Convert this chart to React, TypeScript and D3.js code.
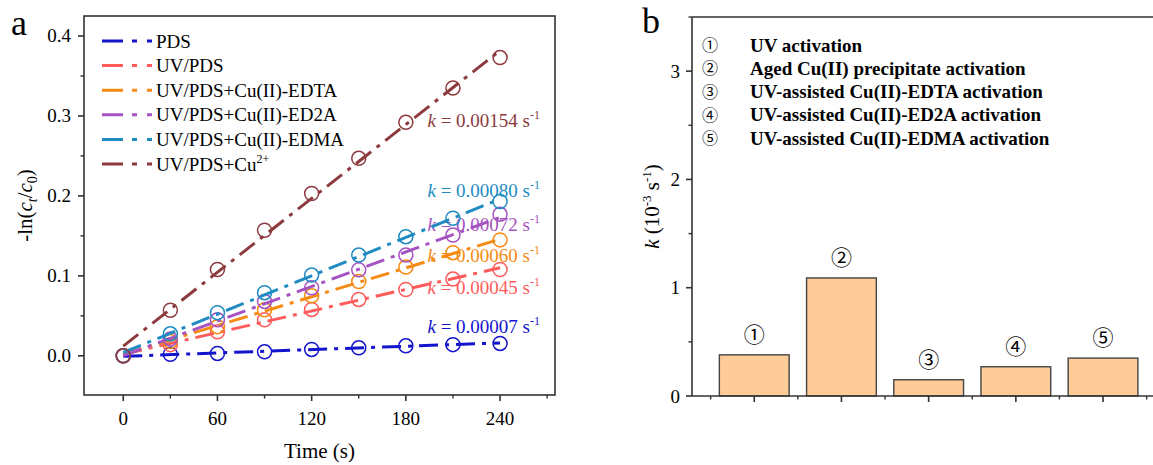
import React from "react";
import * as d3 from "d3";

// ---- Panel a: pseudo-first-order kinetics ----
const times = [0, 30, 60, 90, 120, 150, 180, 210, 240];
const seriesNames = [
  "PDS",
  "UV/PDS",
  "UV/PDS+Cu(II)-EDTA",
  "UV/PDS+Cu(II)-ED2A",
  "UV/PDS+Cu(II)-EDMA",
  "UV/PDS+Cu2+",
];
const seriesColors = ["#1414CC", "#FF5B5B", "#F68A12", "#A552C2", "#1E8BC3", "#8C3A3E"];
const pdsValues = [0, 0.002, 0.003, 0.005, 0.008, 0.01, 0.0125, 0.014, 0.0155];
const uvPdsValues = [0, 0.014, 0.03, 0.045, 0.058, 0.0705, 0.083, 0.096, 0.108];
const edtaValues = [0, 0.018, 0.0365, 0.0575, 0.075, 0.093, 0.111, 0.129, 0.145];
const ed2aValues = [0, 0.021, 0.045, 0.068, 0.085, 0.1075, 0.126, 0.151, 0.177];
const edmaValues = [0, 0.0275, 0.054, 0.079, 0.101, 0.126, 0.149, 0.172, 0.193];
const cuValues = [0, 0.057, 0.108, 0.157, 0.203, 0.247, 0.292, 0.335, 0.373];
const rateConstants = [0.00007, 0.00045, 0.0006, 0.00072, 0.0008, 0.00154];
const rateText = ["0.00007", "0.00045", "0.00060", "0.00072", "0.00080", "0.00154"];
const xTicksA = [0, 60, 120, 180, 240];
const yTicksA = [0.0, 0.1, 0.2, 0.3, 0.4];

// ---- Panel b: rate constants by activation route ----
const routeMarks = ["①", "②", "③", "④", "⑤"];
const routeNames = [
  "UV activation",
  "Aged Cu(II) precipitate activation",
  "UV-assisted Cu(II)-EDTA activation",
  "UV-assisted Cu(II)-ED2A activation",
  "UV-assisted Cu(II)-EDMA activation",
];
const routeK = [0.38, 1.09, 0.15, 0.27, 0.35];
const yTicksB = [0, 1, 2, 3];

const allSeries = [pdsValues, uvPdsValues, edtaValues, ed2aValues, edmaValues, cuValues];
// vertical anchor (data units) of each rate label
const labelAnchors = [0.029, 0.0775, 0.1175, 0.156, 0.199, 0.286];

const SERIF = '"Liberation Serif", "Times New Roman", serif';
const CIRC = '"Noto Sans CJK SC", "DejaVu Sans", sans-serif';
const AX = "#333";

export default function App() {
  const W = 1153;
  const H = 465;

  // panel a scales
  const xa = d3.scaleLinear().domain([-25, 275]).range([84, 555]);
  const ya = d3.scaleLinear().domain([-0.049, 0.425]).range([395, 16]);
  const xMinorA = d3.range(30, 275, 60);
  const yMinorA = d3.range(0.05, 0.42, 0.1);

  // panel b scales
  const xb = d3.scaleLinear().domain([0.286, 5.714]).range([692, 1165.3]);
  const yb = d3.scaleLinear().domain([0, 3.5]).range([396, 17]);
  const barW = xb(1.8) - xb(1);
  const xMinorB = d3.range(0.5, 6, 1);
  const yMinorB = [0.5, 1.5, 2.5, 3.5];

  const fitLine = (vals: number[], k: number) => {
    const tMean = d3.mean(times) as number;
    const vMean = d3.mean(vals) as number;
    const b = vMean - k * tMean;
    return d3
      .line<number>()
      .x((t) => xa(t))
      .y((t) => ya(k * t + b))([0, 240]) as string;
  };

  const dash = "19 7 4 7";

  return (
    <svg
      width={W}
      height={H}
      style={{ position: "absolute", left: 0, top: 0, background: "#fff" }}
      fontFamily={SERIF}
    >
      <rect width={W} height={H} fill="#fff" />

      {/* ===== Panel a ===== */}
      <text x={11} y={35} fontSize={36}>a</text>

      {/* rate labels */}
      {rateText.map((r, i) => (
        <text
          key={"k" + i}
          x={540}
          y={ya(labelAnchors[i])}
          fontSize={19}
          fill={seriesColors[i]}
          textAnchor="end"
        >
          <tspan fontStyle="italic">k</tspan>
          {" = " + r + " s"}
          <tspan fontSize={12} dy={-8}>-1</tspan>
        </text>
      ))}

      {/* series: fit lines and markers */}
      {allSeries.map((vals, i) => (
        <g key={"s" + i}>
          <path
            d={fitLine(vals, rateConstants[i])}
            fill="none"
            stroke={seriesColors[i]}
            strokeWidth={3}
            strokeDasharray={dash}
          />
          {vals.map((v, j) => (
            <circle
              key={j}
              cx={xa(times[j])}
              cy={ya(v)}
              r={7}
              fill="none"
              stroke={seriesColors[i]}
              strokeWidth={1.5}
            />
          ))}
        </g>
      ))}

      {/* legend */}
      {seriesNames.map((n, i) => {
        const y = 41 + i * 24.6;
        return (
          <g key={"lg" + i}>
            <line
              x1={102}
              x2={152}
              y1={y}
              y2={y}
              stroke={seriesColors[i]}
              strokeWidth={3}
              strokeDasharray="21 9 5 10 5 20"
            />
            <text x={156} y={y + 6.5} fontSize={19}>
              {n === "UV/PDS+Cu2+" ? (
                <>
                  UV/PDS+Cu
                  <tspan fontSize={12} dy={-8}>2+</tspan>
                </>
              ) : (
                n
              )}
            </text>
          </g>
        );
      })}

      {/* frame a */}
      <rect
        x={xa(-25)}
        y={ya(0.425)}
        width={xa(275) - xa(-25)}
        height={ya(-0.049) - ya(0.425)}
        fill="none"
        stroke={AX}
        strokeWidth={1.6}
      />
      {xTicksA.map((t) => (
        <g key={"xt" + t}>
          <line x1={xa(t)} x2={xa(t)} y1={395} y2={401} stroke={AX} strokeWidth={1.6} />
          <text x={xa(t)} y={425} fontSize={19} textAnchor="middle">
            {t}
          </text>
        </g>
      ))}
      {xMinorA.map((t) => (
        <line key={"xm" + t} x1={xa(t)} x2={xa(t)} y1={395} y2={398.5} stroke={AX} strokeWidth={1.4} />
      ))}
      {yTicksA.map((v) => (
        <g key={"yt" + v}>
          <line x1={78} x2={84} y1={ya(v)} y2={ya(v)} stroke={AX} strokeWidth={1.6} />
          <text x={71} y={ya(v) + 6.5} fontSize={19} textAnchor="end">
            {d3.format(".1f")(v)}
          </text>
        </g>
      ))}
      {yMinorA.map((v) => (
        <line key={"ym" + v} x1={80.5} x2={84} y1={ya(v)} y2={ya(v)} stroke={AX} strokeWidth={1.4} />
      ))}
      <text x={(xa(-25) + xa(275)) / 2} y={458} fontSize={21} textAnchor="middle">
        Time (s)
      </text>
      <text
        transform={`translate(32, ${(395 + 16) / 2}) rotate(-90)`}
        fontSize={21}
        textAnchor="middle"
      >
        -ln(
        <tspan fontStyle="italic">c</tspan>
        <tspan fontStyle="italic" fontSize={14} dy={5}>t</tspan>
        <tspan dy={-5}>/</tspan>
        <tspan fontStyle="italic">c</tspan>
        <tspan fontSize={14} dy={5}>0</tspan>
        <tspan dy={-5}>)</tspan>
      </text>

      {/* ===== Panel b ===== */}
      <text x={642} y={33} fontSize={36}>b</text>

      {routeK.map((v, i) => {
        const cx = xb(i + 1);
        return (
          <g key={"bar" + i}>
            <rect
              x={cx - barW / 2}
              y={yb(v)}
              width={barW}
              height={yb(0) - yb(v)}
              fill="#FFCC99"
              stroke="#444"
              strokeWidth={1.4}
            />
            <text x={cx} y={yb(v) - 13} fontSize={21} textAnchor="middle" fontFamily={CIRC}>
              {routeMarks[i]}
            </text>
          </g>
        );
      })}

      {routeNames.map((n, i) => {
        const y = 45 + i * 23.3;
        return (
          <g key={"rn" + i}>
            <text x={710} y={y + 6} fontSize={16} textAnchor="middle" fontFamily={CIRC}>
              {routeMarks[i]}
            </text>
            <text x={750} y={y + 6.5} fontSize={19} fontWeight="bold">
              {n}
            </text>
          </g>
        );
      })}

      {/* frame b */}
      <line x1={692} x2={692} y1={17} y2={396} stroke={AX} strokeWidth={1.6} />
      <line x1={692} x2={1165} y1={396} y2={396} stroke={AX} strokeWidth={1.6} />
      <line x1={692} x2={1165} y1={17} y2={17} stroke={AX} strokeWidth={1.6} />
      {routeMarks.map((_, i) => (
        <line key={"bxt" + i} x1={xb(i + 1)} x2={xb(i + 1)} y1={396} y2={402} stroke={AX} strokeWidth={1.6} />
      ))}
      {xMinorB.map((v) => (
        <line key={"bxm" + v} x1={xb(v)} x2={xb(v)} y1={396} y2={399.5} stroke={AX} strokeWidth={1.4} />
      ))}
      {yTicksB.map((v) => (
        <g key={"byt" + v}>
          <line x1={686} x2={692} y1={yb(v)} y2={yb(v)} stroke={AX} strokeWidth={1.6} />
          <text x={680} y={yb(v) + 6.5} fontSize={19} textAnchor="end">
            {v}
          </text>
        </g>
      ))}
      {yMinorB.map((v) => (
        <line key={"bym" + v} x1={688.5} x2={692} y1={yb(v)} y2={yb(v)} stroke={AX} strokeWidth={1.4} />
      ))}
      <text
        transform={`translate(659, ${(396 + 17) / 2}) rotate(-90)`}
        fontSize={21}
        textAnchor="middle"
      >
        <tspan fontStyle="italic">k</tspan>
        {" (10"}
        <tspan fontSize={13} dy={-8}>-3</tspan>
        <tspan dy={8}>{" s"}</tspan>
        <tspan fontSize={13} dy={-8}>-1</tspan>
        <tspan dy={8}>)</tspan>
      </text>
    </svg>
  );
}
